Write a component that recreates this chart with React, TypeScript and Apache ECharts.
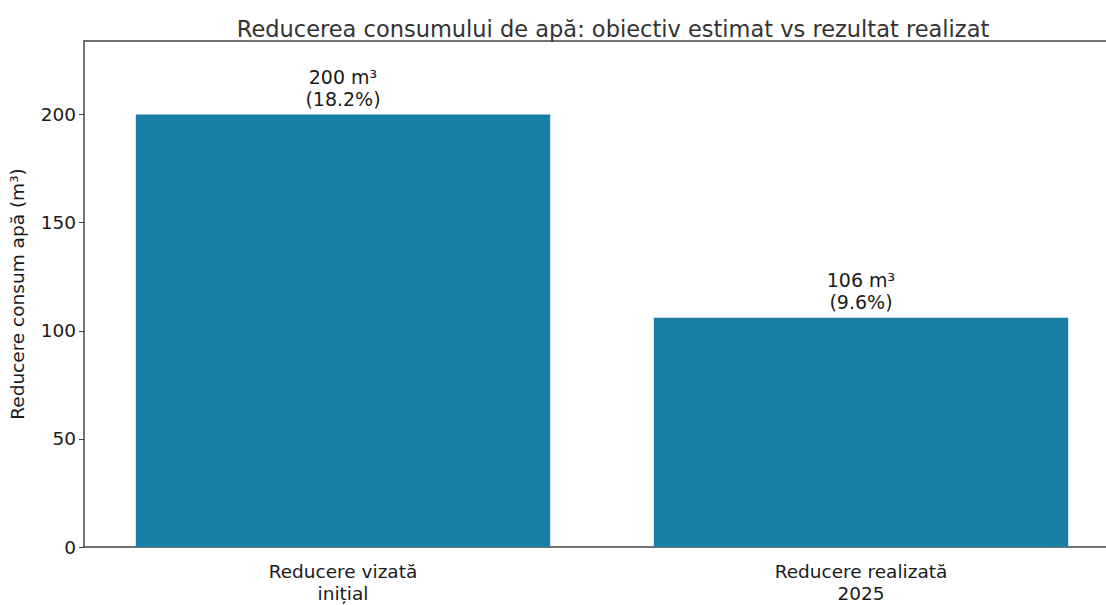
import React, { useEffect, useRef } from "react";
import * as echarts from "echarts";

const categories = ["Reducere vizată\ninițial", "Reducere realizată\n2025"];
const values = [200, 106];
const percents = [18.2, 9.6];
const yTicks = [0, 50, 100, 150, 200];

const FONT = "DejaVu Sans";

export default function App() {
  const ref = useRef<HTMLDivElement>(null);
  useEffect(() => {
    document.body.style.margin = "0";
    document.body.style.overflow = "hidden";
    document.documentElement.style.overflow = "hidden";
    const chart = echarts.init(ref.current!, null, { renderer: "svg" });
    chart.setOption({
      animation: false,
      backgroundColor: "#ffffff",
      textStyle: { fontFamily: FONT },
      title: {
        text: "Reducerea consumului de apă: obiectiv estimat vs rezultat realizat",
        left: 608,
        textAlign: "center",
        top: 12,
        textStyle: { fontFamily: FONT, fontSize: 22.5, fontWeight: "normal", color: "#333" },
      },
      grid: { left: 84, right: 20, top: 41, bottom: 58 },
      xAxis: [
        {
          type: "category",
          data: categories,
          axisLine: { lineStyle: { color: "#444", width: 1.5 } },
          axisTick: { alignWithLabel: true, length: 5, lineStyle: { color: "#444" } },
          axisLabel: { fontFamily: FONT, fontSize: 18.5, color: "#1a1a1a", lineHeight: 22, margin: 13 },
        },
        {
          type: "category",
          position: "top",
          data: categories,
          axisLine: { show: true, lineStyle: { color: "#444", width: 1.5 } },
          axisTick: { show: false },
          axisLabel: { show: false },
        },
      ],
      yAxis: {
        type: "value",
        min: 0,
        max: 234,
        interval: 50,
        name: "Reducere consum apă (m³)",
        nameLocation: "middle",
        nameRotate: 90,
        nameGap: 57,
        nameTextStyle: { fontFamily: FONT, fontSize: 18.5, color: "#1a1a1a" },
        axisLine: { show: true, lineStyle: { color: "#444", width: 1.5 } },
        axisTick: { show: true, length: 5, customValues: yTicks, lineStyle: { color: "#444" } },
        axisLabel: { fontFamily: FONT, fontSize: 18.5, color: "#1a1a1a", customValues: yTicks, margin: 8 },
        splitLine: { show: false },
      },
      series: [
        {
          type: "bar",
          data: values,
          barWidth: "80%",
          itemStyle: { color: "#1a7fa6" },
          label: {
            show: true,
            position: "top",
            distance: 5,
            fontFamily: FONT,
            fontSize: 19,
            color: "#1a1a1a",
            lineHeight: 22,
            formatter: (p: any) => `${p.value} m³\n(${percents[p.dataIndex]}%)`,
          },
        },
      ],
    });
    return () => chart.dispose();
  }, []);
  return <div ref={ref} style={{ width: 1140, height: 605 }} />;
}
